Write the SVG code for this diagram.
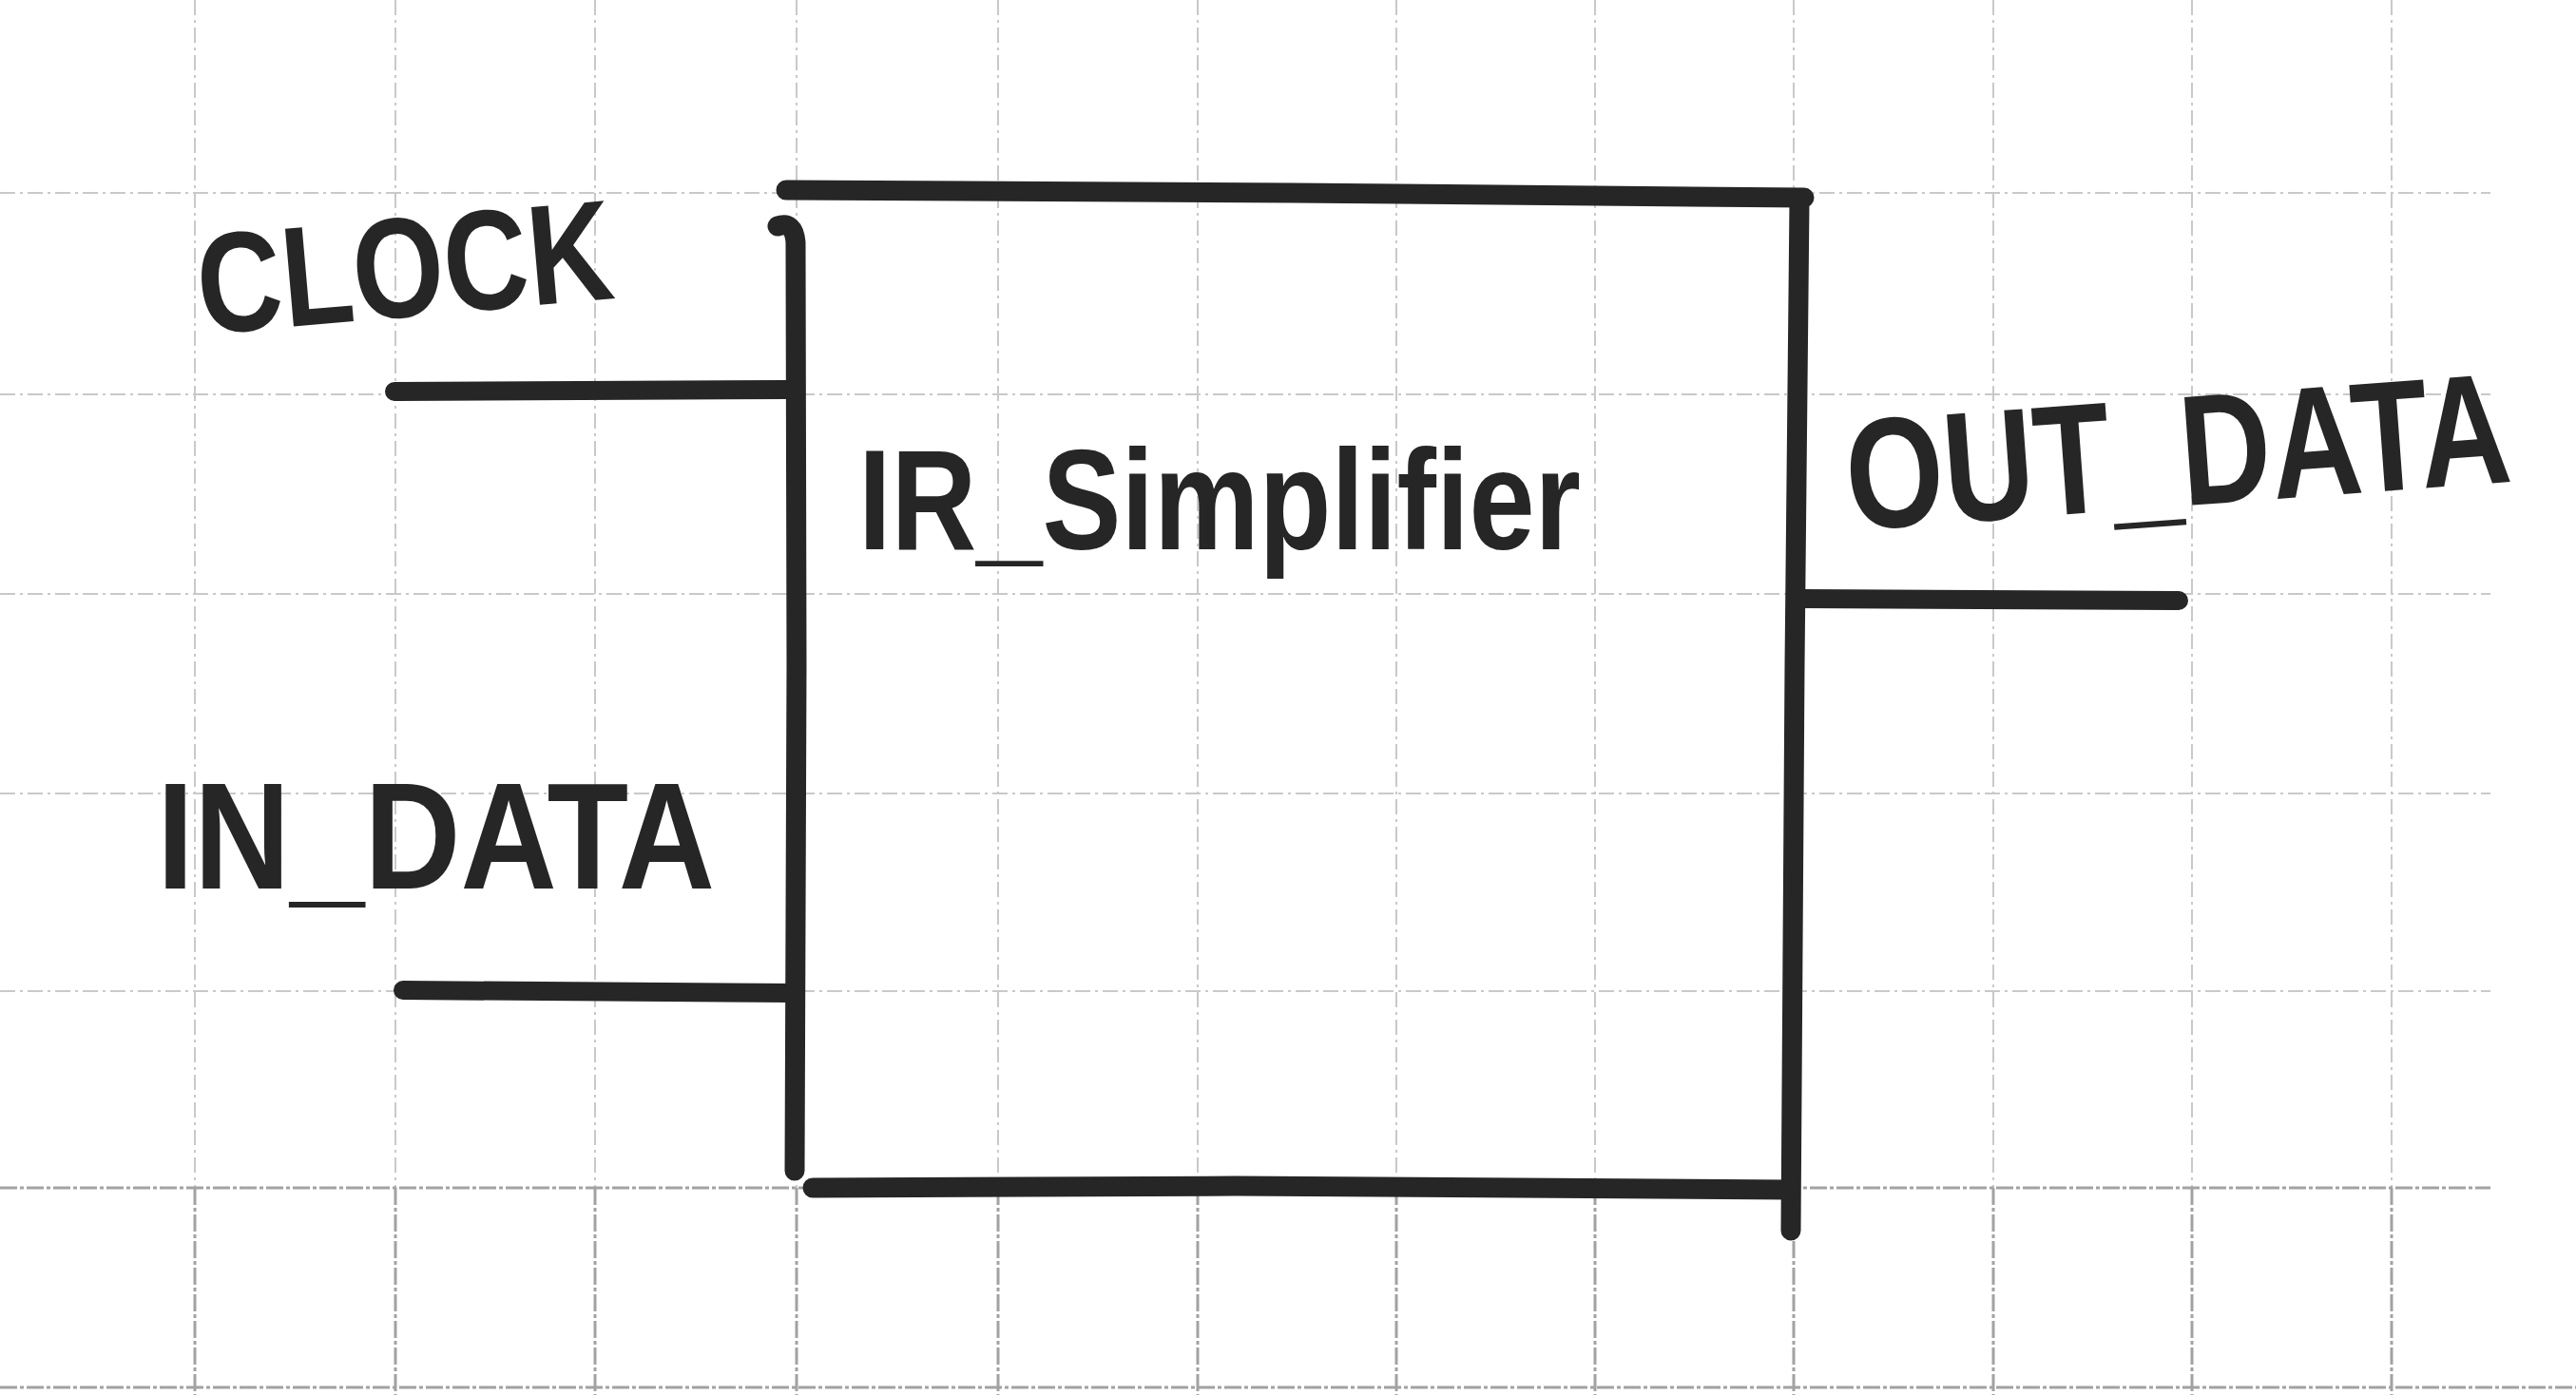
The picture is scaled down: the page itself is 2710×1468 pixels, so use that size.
<svg xmlns="http://www.w3.org/2000/svg" width="2710" height="1468" viewBox="0 0 2710 1468">
  <style>
    .grid { stroke: #c9c9c9; stroke-width: 2; stroke-dasharray: 16 5 3 5; fill: none; }
    .gridd { stroke: #a2a2a2; stroke-width: 3; stroke-dasharray: 18 3 4 3; fill: none; }
    .ink { stroke: #262626; stroke-width: 21; stroke-linecap: round; stroke-linejoin: round; fill: none; }
    .wire { stroke: #262626; stroke-width: 20; stroke-linecap: round; fill: none; }
    .lbl { font-family: "Liberation Sans", Arial, sans-serif; font-weight: bold; fill: #262626; }
  </style>
  <rect width="2710" height="1468" fill="#ffffff"/>
  <g id="grid">
    <path class="grid" d="M205 0V1250 M416 0V1250 M626 0V1250 M838 0V1250 M1050 0V1250 M1260 0V1250 M1469 0V1250 M1678 0V1250 M1887 0V1250 M2097 0V1250 M2306 0V1250 M2516 0V1250"/>
    <path class="grid" d="M0 203H2620 M0 415H2620 M0 625H2620 M0 835H2620 M0 1043H2620"/>
    <path class="gridd" d="M205 1250V1468 M416 1250V1468 M626 1250V1468 M838 1250V1468 M1050 1250V1468 M1260 1250V1468 M1469 1250V1468 M1678 1250V1468 M1887 1250V1468 M2097 1250V1468 M2306 1250V1468 M2516 1250V1468"/>
    <path class="gridd" d="M0 1250H2620 M0 1460H2710"/>
  </g>
  <g id="ir_simplifier">
    <path class="ink" d="M827 200 L1360 203 L1898 208"/>
    <path class="ink" d="M818 238 Q835 232 837 255 L838 700 L836 1232"/>
    <path class="ink" d="M1893 212 L1888 700 L1884 1295"/>
    <path class="ink" d="M855 1250 L1300 1248 L1882 1252"/>
    <text class="lbl" x="903" y="578" font-size="150" textLength="760" lengthAdjust="spacingAndGlyphs">IR_Simplifier</text>
  </g>
  <g id="clock">
    <text class="lbl" x="212" y="352" font-size="150" textLength="438" lengthAdjust="spacingAndGlyphs" transform="rotate(-5 212 352)">CLOCK</text>
  </g>
  <g id="in_data">
    <text class="lbl" x="165" y="935" font-size="160" textLength="587" lengthAdjust="spacingAndGlyphs">IN_DATA</text>
  </g>
  <g id="out_data">
    <text class="lbl" x="1946" y="558" font-size="138" textLength="700" lengthAdjust="spacingAndGlyphs" transform="rotate(-4.2 1946 558) translate(1946 558) scale(1 1.2) translate(-1946 -558)">OUT_DATA</text>
  </g>
  <g id="connectors">
    <path class="wire" d="M415 412 L827 410"/>
    <path class="wire" d="M424 1042 L836 1045"/>
    <path class="wire" d="M1894 630 L2292 632"/>
  </g>
</svg>
